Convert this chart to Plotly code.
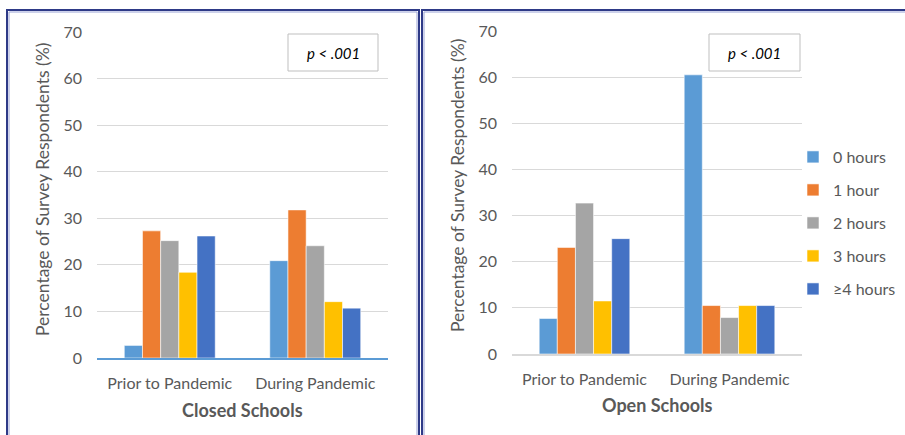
import plotly.graph_objects as go

W, H = 905, 435

# ---- data ----
periods = ["Prior to Pandemic", "During Pandemic"]
hour_groups = ["0 hours", "1 hour", "2 hours", "3 hours", "\u22654 hours"]
colors = ["#5B9BD5", "#ED7D31", "#A5A5A5", "#FFC000", "#4472C4"]

closed_prior = [2.7, 27.3, 25.2, 18.4, 26.2]
closed_during = [20.9, 31.8, 24.1, 12.1, 10.7]
open_prior = [7.7, 23.1, 32.7, 11.5, 25.0]
open_during = [60.5, 10.5, 7.9, 10.5, 10.5]

y_ticks = [0, 10, 20, 30, 40, 50, 60, 70]
p_label = "<i>p < .001</i>"

FONT = "Lato"
GREY_TXT = "#595959"


def px_x(v):
    return v / W


def px_y(v):
    return 1 - v / H


fig = go.Figure()

for i, name in enumerate(hour_groups):
    fig.add_trace(go.Bar(
        x=periods, y=[closed_prior[i], closed_during[i]], name=name,
        marker=dict(color=colors[i], line=dict(color="rgba(255,255,255,0.7)", width=0.8)),
        xaxis="x", yaxis="y", showlegend=False, legendgroup=name,
    ))
for i, name in enumerate(hour_groups):
    fig.add_trace(go.Bar(
        x=periods, y=[open_prior[i], open_during[i]], name=name,
        marker=dict(color=colors[i], line=dict(color="rgba(255,255,255,0.7)", width=0.8)),
        xaxis="x2", yaxis="y2", showlegend=True, legendgroup=name,
    ))

axis_common_x = dict(
    type="category", showgrid=False, ticks="", zeroline=False,
    tickfont=dict(family=FONT, size=16, color=GREY_TXT),
    showline=True, linewidth=2, ticklabelstandoff=10,
)
axis_common_y = dict(
    range=[0, 70], tickvals=y_ticks, showgrid=True, gridcolor="#D9D9D9", gridwidth=1,
    zeroline=False, showline=False, ticks="",
    tickfont=dict(family=FONT, size=16, color=GREY_TXT),
    ticklabelstandoff=14,
)

fig.update_layout(
    width=W, height=H,
    margin=dict(l=0, r=0, t=0, b=0, autoexpand=False),
    paper_bgcolor="white", plot_bgcolor="white",
    barmode="group", bargap=0.375, bargroupgap=0,
    font=dict(family=FONT, color=GREY_TXT),
    xaxis=dict(domain=[px_x(97), px_x(388)], anchor="y", linecolor="#5B9BD5", **axis_common_x),
    yaxis=dict(domain=[px_y(358), px_y(32)], anchor="x", **axis_common_y),
    xaxis2=dict(domain=[px_x(512), px_x(802)], anchor="y2", linecolor="#D9D9D9", **axis_common_x),
    yaxis2=dict(domain=[px_y(354), px_y(31)], anchor="x2", **axis_common_y),
    legend=dict(
        x=px_x(793), y=px_y(140), xanchor="left", yanchor="top",
        font=dict(family=FONT, size=16, color=GREY_TXT),
        traceorder="grouped", tracegroupgap=9.2, bgcolor="rgba(0,0,0,0)",
    ),
)

# panel frames (double navy rule)
shapes = []
for x0, x1 in [(7, 419), (422, 915)]:
    shapes.append(dict(type="rect", xref="paper", yref="paper",
                       x0=px_x(x0), x1=px_x(x1), y0=px_y(445), y1=px_y(10),
                       line=dict(color="#2E3A87", width=2), fillcolor="rgba(0,0,0,0)"))
    shapes.append(dict(type="rect", xref="paper", yref="paper",
                       x0=px_x(x0 + 2), x1=px_x(x1 - 2), y0=px_y(447), y1=px_y(12),
                       line=dict(color="#9AA3D6", width=1), fillcolor="rgba(0,0,0,0)"))

# significance boxes
for bx0, bx1 in [(288, 378), (709, 800)]:
    shapes.append(dict(type="rect", xref="paper", yref="paper",
                       x0=px_x(bx0), x1=px_x(bx1), y0=px_y(71), y1=px_y(34),
                       line=dict(color="#BFBFBF", width=1), fillcolor="white"))

annotations = []
for cx in [333, 754.5]:
    annotations.append(dict(text=p_label, x=px_x(cx), y=px_y(53), xref="paper", yref="paper",
                            showarrow=False, xanchor="center", yanchor="middle",
                            font=dict(family=FONT, size=15, color="#000000")))

# y-axis titles
for cx, cy in [(42, 190), (458, 186)]:
    annotations.append(dict(text="Percentage of Survey Respondents (%)", textangle=-90,
                            x=px_x(cx), y=px_y(cy), xref="paper", yref="paper",
                            showarrow=False, xanchor="center", yanchor="middle",
                            font=dict(family=FONT, size=17.5, color=GREY_TXT)))

# x-axis titles
for text, cx, cy in [("Closed Schools", 242.5, 410), ("Open Schools", 657, 405)]:
    annotations.append(dict(text=f"<b>{text}</b>", x=px_x(cx), y=px_y(cy),
                            xref="paper", yref="paper", showarrow=False,
                            xanchor="center", yanchor="middle",
                            font=dict(family=FONT, size=18, color=GREY_TXT)))

fig.update_layout(shapes=shapes, annotations=annotations)

fig.write_html("out.html")
